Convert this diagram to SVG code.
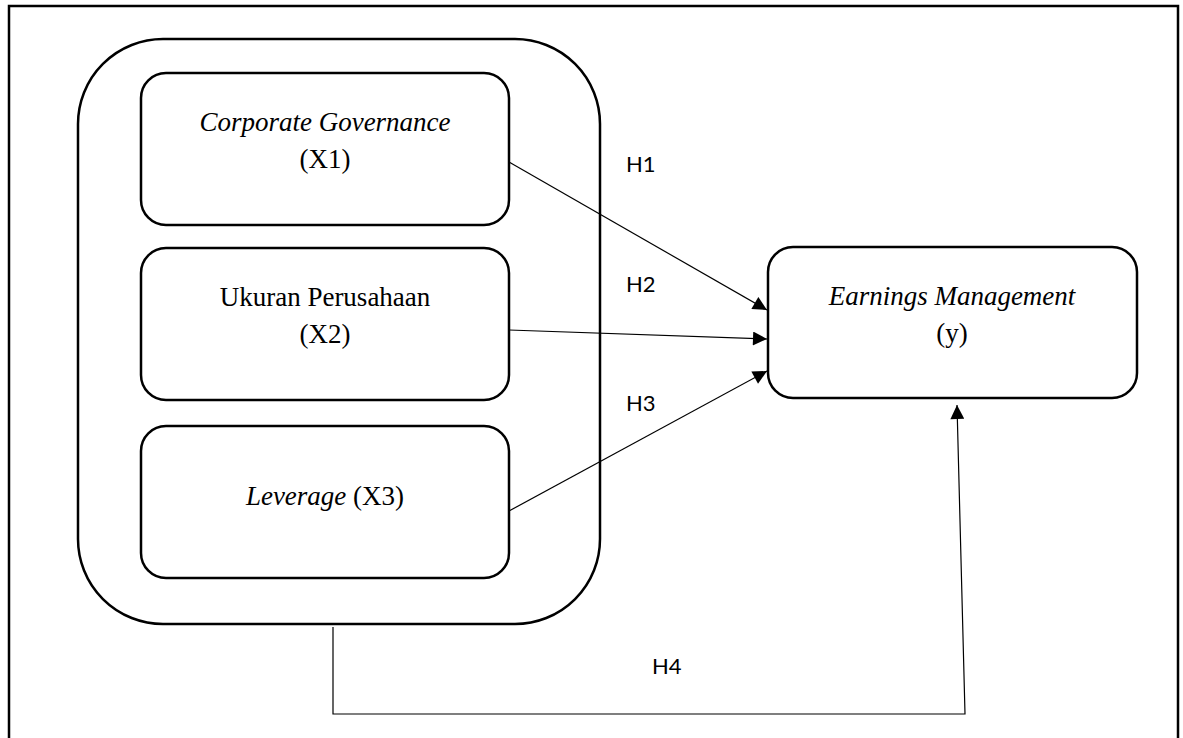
<svg xmlns="http://www.w3.org/2000/svg" width="1183" height="738" viewBox="0 0 1183 738">
<style>
.frame{fill:none;stroke:#000;stroke-width:2.5}
.box{fill:#fff;stroke:#000;stroke-width:2.5}
.cn{fill:none;stroke:#000;stroke-width:1.2}
.t{font-family:"Liberation Serif","Times New Roman",serif;font-size:27px;fill:#000;text-anchor:middle}
.i{font-style:italic}
.h{font-family:Lato,"Open Sans",sans-serif;font-size:22px;fill:#000}
</style>
<defs>
<marker id="ah" viewBox="0 0 10 10" refX="10" refY="5" markerWidth="15" markerHeight="14" markerUnits="userSpaceOnUse" orient="auto">
<path d="M0,0 L10,5 L0,10 Z" fill="#000"/>
</marker>
</defs>
<rect class="frame" x="9" y="6" width="1169" height="760"/>
<g id="group">
<rect class="box" x="78" y="39" width="522" height="585" rx="85" ry="85"/>
</g>
<g id="x1">
<rect class="box" x="141" y="73" width="368" height="152" rx="25" ry="25"/>
<text class="t" x="325" y="131"><tspan class="i">Corporate Governance</tspan></text>
<text class="t" x="325" y="168">(X1)</text>
</g>
<g id="x2">
<rect class="box" x="141" y="248" width="368" height="152" rx="25" ry="25"/>
<text class="t" x="325" y="306">Ukuran Perusahaan</text>
<text class="t" x="325" y="343">(X2)</text>
</g>
<g id="x3">
<rect class="box" x="141" y="426" width="368" height="152" rx="25" ry="25"/>
<text class="t" x="325" y="505"><tspan class="i">Leverage</tspan> (X3)</text>
</g>
<g id="y">
<rect class="box" x="768" y="247" width="369" height="151" rx="25" ry="25"/>
<text class="t" x="952" y="305"><tspan class="i">Earnings Management</tspan></text>
<text class="t" x="952" y="342">(y)</text>
</g>
<g id="connectors">
<line class="cn" x1="509" y1="162" x2="767" y2="310" marker-end="url(#ah)"/>
<line class="cn" x1="509" y1="330" x2="767" y2="339" marker-end="url(#ah)"/>
<line class="cn" x1="509" y1="511" x2="767" y2="371" marker-end="url(#ah)"/>
<polyline class="cn" points="333,627 333,714 965,714 957,405" marker-end="url(#ah)"/>
</g>
<g id="labels">
<text class="h" x="626" y="172">H1</text>
<text class="h" x="626" y="292">H2</text>
<text class="h" x="626" y="411">H3</text>
<text class="h" x="652" y="674">H4</text>
</g>
</svg>
